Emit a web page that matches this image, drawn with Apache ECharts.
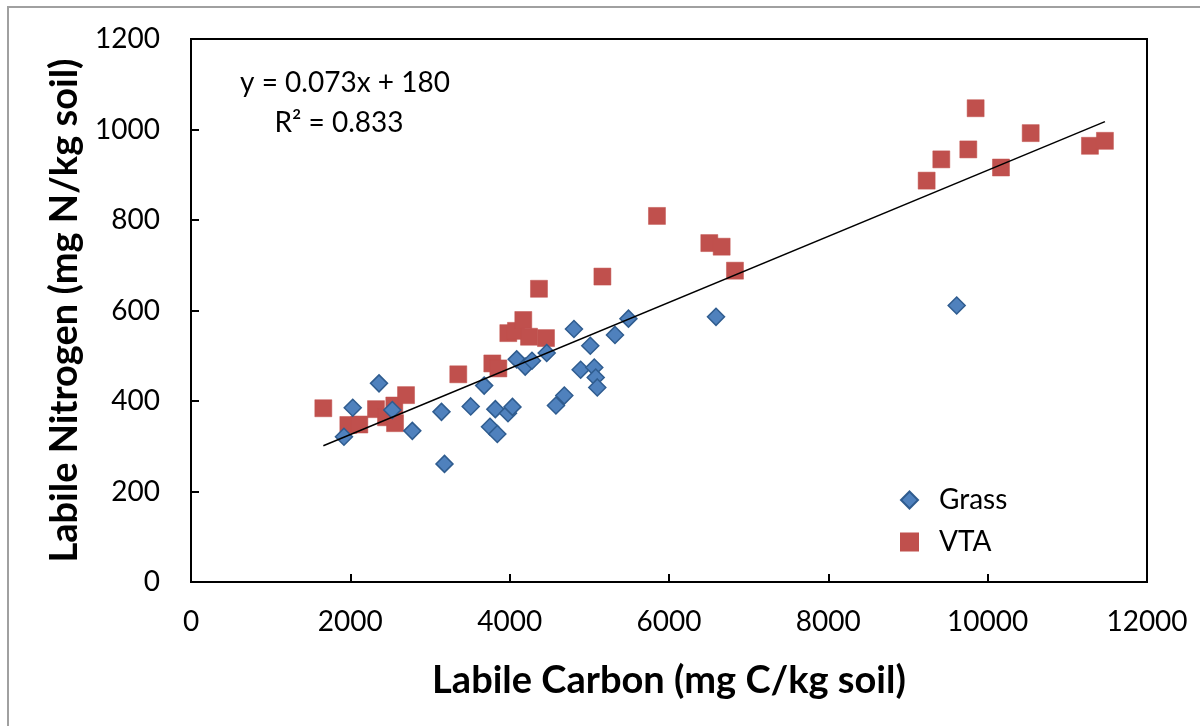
<!DOCTYPE html>
<html>
<head>
<meta charset="utf-8">
<script src="https://cdn.jsdelivr.net/npm/echarts@6/dist/echarts.min.js"></script>
<style>
html,body{margin:0;padding:0;background:#fff;}
#chart{width:1200px;height:726px;}
</style>
</head>
<body>
<div id="chart"></div>
<script>
// Grass: labile carbon (x) and labile nitrogen (y)
const grassC = [1920, 2030, 2360, 2527, 2778, 3144, 3182, 3511, 3680, 3753, 3845, 3820, 3979, 4035, 4088, 4195, 4280, 4465, 4581, 4686, 4807, 4891, 5012, 5062, 5080, 5100, 5322, 5491, 6590, 9611];
const grassN = [321, 385, 439, 380, 334, 376, 261, 388, 434, 343, 327, 382, 373, 387, 492, 476, 489, 506, 390, 412, 559, 469, 522, 474, 452, 430, 546, 582, 586, 611];
// VTA
const vtaC = [1661, 1975, 2113, 2322, 2448, 2552, 2561, 2699, 3355, 3782, 3858, 3983, 4079, 4171, 4243, 4368, 4456, 5164, 5849, 6506, 6661, 6828, 9234, 9418, 9757, 9849, 10167, 10540, 11284, 11472];
const vtaN = [384, 347, 348, 382, 364, 390, 351, 413, 459, 483, 472, 550, 555, 579, 542, 648, 539, 675, 809, 749, 741, 688, 887, 934, 956, 1047, 916, 992, 964, 975];
// Linear trend (all data)
const slope = 0.073;
const intercept = 180;
const eqText = "y = 0.073x + 180";
const r2Text = "R² = 0.833";
const xTicks = [0, 2000, 4000, 6000, 8000, 10000, 12000];
const yTicks = [0, 200, 400, 600, 800, 1000, 1200];

const allC = grassC.concat(vtaC);
const xMin = Math.min.apply(null, allC), xMax = Math.max.apply(null, allC);
const trend = [[xMin, slope * xMin + intercept], [xMax, slope * xMax + intercept]];

const FONT = "Lato, 'Open Sans', sans-serif";
const chart = echarts.init(document.getElementById('chart'));
chart.setOption({
  animation: false,
  backgroundColor: '#fff',
  grid: {left: 191, top: 39, right: 53, bottom: 144, show: true, borderColor: '#000', borderWidth: 2, backgroundColor: 'transparent'},
  xAxis: {
    type: 'value', min: xTicks[0], max: xTicks[xTicks.length - 1], interval: 2000,
    name: 'Labile Carbon (mg C/kg soil)', nameLocation: 'middle', nameGap: 80,
    nameTextStyle: {fontFamily: FONT, fontSize: 38, fontWeight: 'bold', color: '#000'},
    axisLine: {lineStyle: {color: '#000', width: 2}},
    axisTick: {inside: true, length: 8, lineStyle: {color: '#000', width: 2}},
    axisLabel: {fontFamily: FONT, fontSize: 28, color: '#000', margin: 26, formatter: v => String(v)},
    splitLine: {show: false}
  },
  yAxis: {
    type: 'value', min: yTicks[0], max: yTicks[yTicks.length - 1], interval: 200,
    name: 'Labile Nitrogen (mg N/kg soil)', nameLocation: 'middle', nameGap: 100, nameRotate: 90,
    nameTextStyle: {fontFamily: FONT, fontSize: 38, fontWeight: 'bold', color: '#000'},
    axisLine: {show: true, lineStyle: {color: '#000', width: 2}},
    axisTick: {show: true, inside: true, length: 8, lineStyle: {color: '#000', width: 2}},
    axisLabel: {fontFamily: FONT, fontSize: 28, color: '#000', margin: 31, formatter: v => String(v)},
    splitLine: {show: false}
  },
  legend: {
    orient: 'vertical', left: 895, top: 481, itemGap: 14, itemWidth: 17, itemHeight: 17,
    data: ['Grass', 'VTA'],
    textStyle: {fontFamily: FONT, fontSize: 28, color: '#000', padding: [0, 0, 0, 16]}
  },
  series: [
    {
      name: 'Trend', type: 'line', data: trend, showSymbol: false, symbol: 'none',
      lineStyle: {color: '#000', width: 1.5}, z: 5, silent: true
    },
    {
      name: 'Grass', type: 'scatter', symbol: 'diamond', symbolSize: 17,
      data: grassC.map((c, i) => [c, grassN[i]]),
      itemStyle: {color: '#4F81BD', borderColor: '#2F5C8F', borderWidth: 1.5, opacity: 1}, z: 3
    },
    {
      name: 'VTA', type: 'scatter', symbol: 'rect', symbolSize: 17,
      data: vtaC.map((c, i) => [c, vtaN[i]]),
      itemStyle: {color: '#C0504D', borderColor: '#C0504D', borderWidth: 0.5, opacity: 1}, z: 2
    }
  ],
  graphic: [
    {type: 'line', shape: {x1: 7, y1: 7, x2: 1200, y2: 7}, style: {stroke: '#A0A0A0', lineWidth: 2}},
    {type: 'line', shape: {x1: 8, y1: 7, x2: 8, y2: 726}, style: {stroke: '#A0A0A0', lineWidth: 2}},
    {type: 'text', x: 345, y: 83, style: {text: eqText, fontFamily: FONT, fontSize: 28, fill: '#000', textAlign: 'center', textVerticalAlign: 'middle'}},
    {type: 'text', x: 339, y: 123, style: {text: r2Text, fontFamily: FONT, fontSize: 28, fill: '#000', textAlign: 'center', textVerticalAlign: 'middle'}}
  ]
});
</script>
</body>
</html>
